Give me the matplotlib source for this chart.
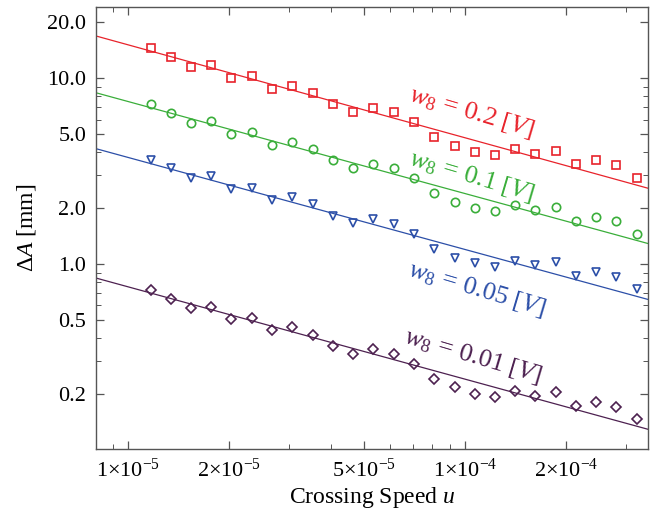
import matplotlib
matplotlib.use("Agg")
import matplotlib.pyplot as plt
from matplotlib.ticker import FixedLocator, FixedFormatter, NullFormatter, LogLocator

# ── 数据 ──
u = [1.167e-5, 1.340e-5, 1.538e-5, 1.766e-5, 2.028e-5, 2.333e-5, 2.679e-5,
     3.076e-5, 3.532e-5, 4.055e-5, 4.656e-5, 5.346e-5, 6.138e-5, 7.047e-5,
     8.091e-5, 9.31e-5, 1.069e-4, 1.227e-4, 1.409e-4, 1.618e-4, 1.858e-4,
     2.133e-4, 2.449e-4, 2.812e-4, 3.228e-4]

dA_02 = [14.5, 13.07, 11.55, 11.79, 10.04, 10.25, 8.79, 9.12, 8.33, 7.24,
         6.58, 6.92, 6.58, 5.81, 4.83, 4.32, 4.01, 3.86, 4.16, 3.91, 4.07,
         3.44, 3.62, 3.41, 2.92]
dA_01 = [7.24, 6.50, 5.77, 5.89, 5.01, 5.12, 4.39, 4.56, 4.16, 3.63, 3.30,
         3.46, 3.30, 2.89, 2.41, 2.16, 2.01, 1.93, 2.08, 1.95, 2.03, 1.71,
         1.80, 1.70, 1.45]
dA_005 = [3.63, 3.28, 2.92, 2.97, 2.53, 2.58, 2.22, 2.30, 2.10, 1.81, 1.66,
          1.74, 1.65, 1.46, 1.20, 1.08, 1.01, 0.967, 1.04, 0.984, 1.02, 0.862,
          0.906, 0.854, 0.731]
dA_001 = [0.724, 0.650, 0.580, 0.589, 0.504, 0.512, 0.441, 0.456, 0.416,
          0.362, 0.329, 0.347, 0.329, 0.289, 0.242, 0.218, 0.201, 0.193,
          0.208, 0.195, 0.204, 0.173, 0.181, 0.170, 0.146]

# 拟合直线 (两端点)
fit_u = [8.04e-6, 3.49e-4]
fit_02 = [16.9, 2.56]
fit_01 = [8.36, 1.29]
fit_005 = [4.18, 0.645]
fit_001 = [0.841, 0.129]

x_ticks = [1e-5, 2e-5, 5e-5, 1e-4, 2e-4]
x_ticklabels = [r"1$\times$10$^{-5}$", r"2$\times$10$^{-5}$", r"5$\times$10$^{-5}$",
                r"1$\times$10$^{-4}$", r"2$\times$10$^{-4}$"]
y_ticks = [0.2, 0.5, 1.0, 2.0, 5.0, 10.0, 20.0]
y_ticklabels = ["0.2", "0.5", "1.0", "2.0", "5.0", "10.0", "20.0"]

# ── 样式 ──
plt.rcParams["font.family"] = ["Liberation Serif", "DejaVu Serif"]
plt.rcParams["mathtext.fontset"] = "custom"
plt.rcParams["mathtext.rm"] = "Liberation Serif"
plt.rcParams["mathtext.it"] = "Liberation Serif:italic"

SERIES = [
    (dA_02, fit_02, "#e8232b", "s", r"$\mathit{w_8}\,=\,\mathit{0.2\ [V]}$", (0.680, 0.762)),
    (dA_01, fit_01, "#3aae3a", "o", r"$\mathit{w_8}\,=\,\mathit{0.1\ [V]}$", (0.680, 0.617)),
    (dA_005, fit_005, "#2c4fa8", "v", r"$\mathit{w_8}\,=\,\mathit{0.05\ [V]}$", (0.690, 0.362)),
    (dA_001, fit_001, "#4d2150", "D", r"$\mathit{w_8}\,=\,\mathit{0.01\ [V]}$", (0.683, 0.210)),
]

fig = plt.figure(figsize=(6.54, 5.12), dpi=100)
ax = fig.add_axes([0.1468, 0.123, 0.8440, 0.8633])

for dA, fit, color, marker, label, pos in SERIES:
    ax.plot(fit_u, fit, color=color, lw=0.9)
    ms = 5.0 if marker == "D" else 6.0
    ax.plot(u, dA, linestyle="none", marker=marker, ms=ms, mfc="none",
            mec=color, mew=1.2)
    ax.text(pos[0], pos[1], label, transform=ax.transAxes, color=color,
            fontsize=19, rotation=-16.5, ha="center", va="center",
            rotation_mode="anchor")

ax.set_xscale("log")
ax.set_yscale("log")
ax.set_xlim(8.04e-6, 3.49e-4)
ax.set_ylim(0.101, 24.2)

ax.xaxis.set_major_locator(FixedLocator(x_ticks))
ax.xaxis.set_major_formatter(FixedFormatter(x_ticklabels))
ax.xaxis.set_minor_locator(LogLocator(base=10, subs=(3, 4, 6, 7, 8, 9)))
ax.xaxis.set_minor_formatter(NullFormatter())
ax.yaxis.set_major_locator(FixedLocator(y_ticks))
ax.yaxis.set_major_formatter(FixedFormatter(y_ticklabels))
ax.yaxis.set_minor_locator(LogLocator(base=10, subs=(3, 4, 6, 7, 8, 9)))
ax.yaxis.set_minor_formatter(NullFormatter())

ax.tick_params(which="both", direction="in", top=True, right=True,
               color="#555555", labelsize=16)
ax.tick_params(which="major", length=6, width=0.9, pad=7)
ax.tick_params(which="minor", length=3.5, width=0.7)
for s in ax.spines.values():
    s.set_color("#555555")
    s.set_linewidth(1.0)

ax.set_xlabel(r"Crossing Speed $\mathit{u}$", fontsize=17, labelpad=2)
ax.set_ylabel(r"$\Delta\mathit{A}$ [mm]", fontsize=17, labelpad=7)

fig.savefig("out.png", dpi=100)
